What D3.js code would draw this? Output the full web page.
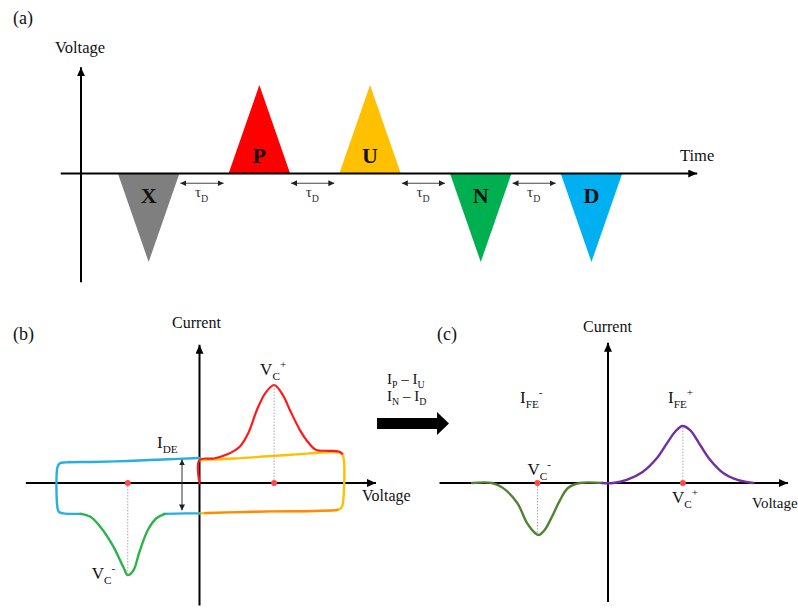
<!DOCTYPE html>
<html>
<head>
<meta charset="utf-8">
<script src="https://cdn.jsdelivr.net/npm/d3@7"></script>
<style>
  body { margin: 0; background: #fff; }
  text { font-family: "Liberation Serif", "Times New Roman", serif; fill: #111; }
</style>
</head>
<body>
<svg id="fig" width="798" height="608"></svg>
<script>
// ---------- (a) PUND pulse train ----------
const pulseNames  = ["X", "P", "U", "N", "D"];
const pulseStart  = [0.6, 2.4, 4.2, 6.0, 7.8];   // time, arb. units
const pulseEnd    = [1.6, 3.4, 5.2, 7.0, 8.8];
const pulseAmp    = [-1, 1, 1, -1, -1];          // normalised voltage
const pulseColors = ["#7f7f7f", "#ff0000", "#ffc000", "#00b050", "#00b0f0"];

// ---------- (b) raw I–V loops (V normalised, I normalised to P peak) ----------
const dBranchUpper = [[0,0.255],[-0.25,0.24],[-0.5,0.225],[-0.75,0.215],[-0.93,0.21],[-0.975,0.2],
                      [-0.99,0.16],[-0.99,-0.25],[-0.98,-0.295],[-0.95,-0.31],[-0.82,-0.315]];
const dBranchLower = [[-0.25,-0.315],[-0.1,-0.31],[0,-0.31]];
const nSwitching   = [[-0.83,-0.315],[-0.76,-0.345],[-0.69,-0.45],[-0.60,-0.65],[-0.53,-0.86],
                      [-0.50,-0.94],[-0.46,-0.89],[-0.42,-0.71],[-0.36,-0.48],[-0.30,-0.36],[-0.24,-0.315]];
const uLoop        = [[0,0.235],[0.25,0.25],[0.5,0.275],[0.75,0.3],[0.93,0.315],[0.98,0.31],[1.0,0.28],
                      [1.0,-0.2],[0.99,-0.25],[0.96,-0.275],[0.8,-0.285],[0.5,-0.29],[0.2,-0.3],[0,-0.31]];
const pSwitching   = [[0,0],[0,0.235],[0.1,0.25],[0.19,0.29],[0.28,0.37],[0.34,0.51],[0.40,0.745],
                      [0.46,0.92],[0.52,1.0],[0.58,0.9],[0.63,0.745],[0.70,0.54],[0.76,0.41],[0.81,0.34],
                      [0.9,0.328],[0.97,0.322],[0.995,0.3]];
const pReturn      = [[0.96,-0.275],[0.8,-0.285],[0.5,-0.29],[0.2,-0.3],[0.04,-0.306]];
const vcPlusB = 0.52, peakB = 1.0, vcMinusB = -0.50, dipB = -0.94;

// ---------- (c) switching currents I_P − I_U and I_N − I_D ----------
const ifePlus  = [[-0.04,0],[0.035,0],[0.13,0.037],[0.24,0.135],[0.34,0.307],[0.41,0.49],[0.465,0.626],
                  [0.515,0.70],[0.57,0.65],[0.64,0.466],[0.71,0.282],[0.80,0.123],[0.90,0.037],[0.965,0.012],[1.01,0]];
const ifeMinus = [[-0.944,0],[-0.806,0],[-0.73,-0.06],[-0.63,-0.245],[-0.563,-0.49],[-0.507,-0.613],
                  [-0.48,-0.638],[-0.44,-0.577],[-0.39,-0.417],[-0.333,-0.209],[-0.278,-0.061],[-0.194,0],[-0.04,0]];
const vcPlusC = 0.52, peakC = 0.70, vcMinusC = -0.49, dipC = -0.63;

const svg = d3.select("#fig");

// arrowheads
const defs = svg.append("defs");
function marker(id, len, half, color) {
  defs.append("marker").attr("id", id).attr("markerUnits", "userSpaceOnUse")
    .attr("viewBox", `${-len} ${-half} ${len} ${half * 2}`)
    .attr("refX", 0).attr("refY", 0)
    .attr("markerWidth", len).attr("markerHeight", half * 2)
    .attr("orient", "auto-start-reverse")
    .append("path").attr("d", `M0,0L${-len},${-half}L${-len},${half}Z`).attr("fill", color);
}
marker("axisHead", 9, 4, "#000");
marker("smallHead", 6, 3, "#222");

// text with sub/superscript parts: [string, "sub"|"sup"|undefined]
function richText(x, y, parts, size, opts = {}) {
  const t = svg.append("text").attr("x", x).attr("y", y).attr("font-size", size);
  if (opts.fill) t.style("fill", opts.fill);
  let shift = 0;
  parts.forEach(([s, kind]) => {
    const target = kind === "sub" ? size * 0.28 : kind === "sup" ? -size * 0.42 : 0;
    t.append("tspan").attr("dy", target - shift)
      .attr("font-size", kind ? size * 0.66 : size).text(s);
    shift = target;
  });
  return t;
}
function label(x, y, s, size, anchor = "start") {
  return svg.append("text").attr("x", x).attr("y", y).attr("font-size", size)
    .attr("text-anchor", anchor).text(s);
}
function axisLine(x1, y1, x2, y2) {
  svg.append("line").attr("x1", x1).attr("y1", y1).attr("x2", x2).attr("y2", y2)
    .attr("stroke", "#000").attr("stroke-width", 2).attr("marker-end", "url(#axisHead)");
}

// ================= (a) =================
const xA = d3.scaleLinear().domain([0, 10]).range([81, 696]);
const yA = d3.scaleLinear().domain([-1, 1]).range([262, 85]);

label(13, 24, "(a)", 18);
label(55, 53, "Voltage", 16.5);
label(680, 161, "Time", 16.5);

const pulses = pulseNames.map((n, i) => ({
  name: n, t0: pulseStart[i], t1: pulseEnd[i], amp: pulseAmp[i], color: pulseColors[i]
}));
svg.append("g").selectAll("path").data(pulses).join("path")
  .attr("d", d => d3.line()([[xA(d.t0), yA(0)], [xA((d.t0 + d.t1) / 2), yA(d.amp)], [xA(d.t1), yA(0)]]) + "Z")
  .attr("fill", d => d.color);

axisLine(xA(0), yA(-1.23), xA(0), yA(1.2));
axisLine(xA(-0.33), yA(0), xA(10.02), yA(0));

svg.append("g").selectAll("text").data(pulses).join("text")
  .attr("x", d => xA((d.t0 + d.t1) / 2))
  .attr("y", d => yA(d.amp > 0 ? 0.12 : -0.33))
  .attr("text-anchor", "middle").attr("font-size", 22).attr("font-weight", "bold")
  .text(d => d.name);

// delay arrows between consecutive pulses
d3.range(pulses.length - 1).forEach(i => {
  const a = xA(pulses[i].t1) + 1, b = xA(pulses[i + 1].t0) - 5, yy = yA(-0.11);
  svg.append("line").attr("x1", a).attr("y1", yy).attr("x2", b).attr("y2", yy)
    .attr("stroke", "#444").attr("stroke-width", 1)
    .attr("marker-start", "url(#smallHead)").attr("marker-end", "url(#smallHead)");
  richText((a + b) / 2 - 7, yA(-0.27), [["τ"], ["D", "sub"]], 15, { fill: "#333" });
});

// ================= (b) =================
const xB = d3.scaleLinear().domain([-1, 1]).range([56, 343]);
const yB = d3.scaleLinear().domain([-1, 1]).range([581, 385]);
const lineB = d3.line().x(d => xB(d[0])).y(d => yB(d[1])).curve(d3.curveCatmullRom.alpha(0.5));

label(13, 340, "(b)", 18);
label(172, 328, "Current", 16);
label(362, 501, "Voltage", 16);

axisLine(xB(-1.21), yB(0), xB(1.23), yB(0));
axisLine(xB(0), yB(-1.25), xB(0), yB(1.41));

function stroke(path, gen, color, width, opacity = 1) {
  svg.append("path").attr("d", gen(path)).attr("fill", "none").attr("stroke", color)
    .attr("stroke-width", width).attr("stroke-linejoin", "round").attr("stroke-linecap", "round")
    .attr("opacity", opacity);
}
stroke(uLoop, lineB, "#ffc000", 2.4);
stroke(pReturn, lineB, "#ff2a00", 2.4, 0.35);
stroke(pSwitching, lineB, "#ff1a1a", 2.2);
stroke(dBranchUpper, lineB, "#27aee3", 2.4);
stroke(dBranchLower, lineB, "#27aee3", 2.4);
stroke(nSwitching, lineB, "#2db34a", 2.4);

function dotted(x, y1, y2) {
  svg.append("line").attr("x1", x).attr("x2", x).attr("y1", y1).attr("y2", y2)
    .attr("stroke", "#aaa").attr("stroke-width", 1).attr("stroke-dasharray", "1.5,1.5");
}
dotted(xB(vcPlusB), yB(0), yB(peakB));
dotted(xB(vcMinusB), yB(0), yB(dipB));
svg.append("g").selectAll("circle").data([vcPlusB, vcMinusB]).join("circle")
  .attr("cx", d => xB(d)).attr("cy", yB(0)).attr("r", 3).attr("fill", "#ff4a4a");

// I_DE span: dielectric (non-switching) current at V = 0
svg.append("line").attr("x1", 182).attr("x2", 182).attr("y1", yB(0.24)).attr("y2", yB(-0.28))
  .attr("stroke", "#333").attr("stroke-width", 1)
  .attr("marker-start", "url(#smallHead)").attr("marker-end", "url(#smallHead)");
richText(157, 448, [["I"], ["DE", "sub"]], 17);
richText(xB(vcPlusB) - 14, yB(peakB) - 10, [["V"], ["C", "sub"], ["+", "sup"]], 17);
richText(xB(vcMinusB) - 36, yB(dipB) + 4, [["V"], ["C", "sub"], ["-", "sup"]], 17);

// transformation arrow
const arrowPts = [[377, 418], [437, 418], [437, 412], [449, 423.5], [437, 435], [437, 429], [377, 429]];
svg.append("path").attr("d", d3.line()(arrowPts) + "Z").attr("fill", "#000");
richText(387, 384, [["I"], ["P", "sub"], [" – I"], ["U", "sub"]], 15);
richText(387, 401, [["I"], ["N", "sub"], [" – I"], ["D", "sub"]], 15);

// ================= (c) =================
const xC = d3.scaleLinear().domain([-1, 1]).range([464, 752]);
const yC = d3.scaleLinear().domain([-1, 1]).range([564.5, 401.5]);
const lineC = d3.line().x(d => xC(d[0])).y(d => yC(d[1])).curve(d3.curveCatmullRom.alpha(0.5));

label(437, 340, "(c)", 18);
label(583, 332, "Current", 16);
label(752, 508, "Voltage", 15);

axisLine(xC(-1.17), yC(0), xC(1.25), yC(0));
axisLine(xC(0), yC(-1.46), xC(0), yC(1.72));

stroke(ifeMinus, lineC, "#548235", 2.4);
stroke(ifePlus, lineC, "#7030a0", 2.4);

dotted(xC(vcPlusC), yC(0), yC(peakC));
dotted(xC(vcMinusC), yC(0), yC(dipC));
svg.append("g").selectAll("circle").data([vcPlusC, vcMinusC]).join("circle")
  .attr("cx", d => xC(d)).attr("cy", yC(0)).attr("r", 3).attr("fill", "#ff4a4a");

richText(520, 403, [["I"], ["FE", "sub"], ["-", "sup"]], 17);
richText(668, 403, [["I"], ["FE", "sub"], ["+", "sup"]], 17);
richText(xC(vcMinusC) - 10, 475, [["V"], ["C", "sub"], ["-", "sup"]], 17);
richText(xC(vcPlusC) - 11, 503, [["V"], ["C", "sub"], ["+", "sup"]], 17);
</script>
</body>
</html>
